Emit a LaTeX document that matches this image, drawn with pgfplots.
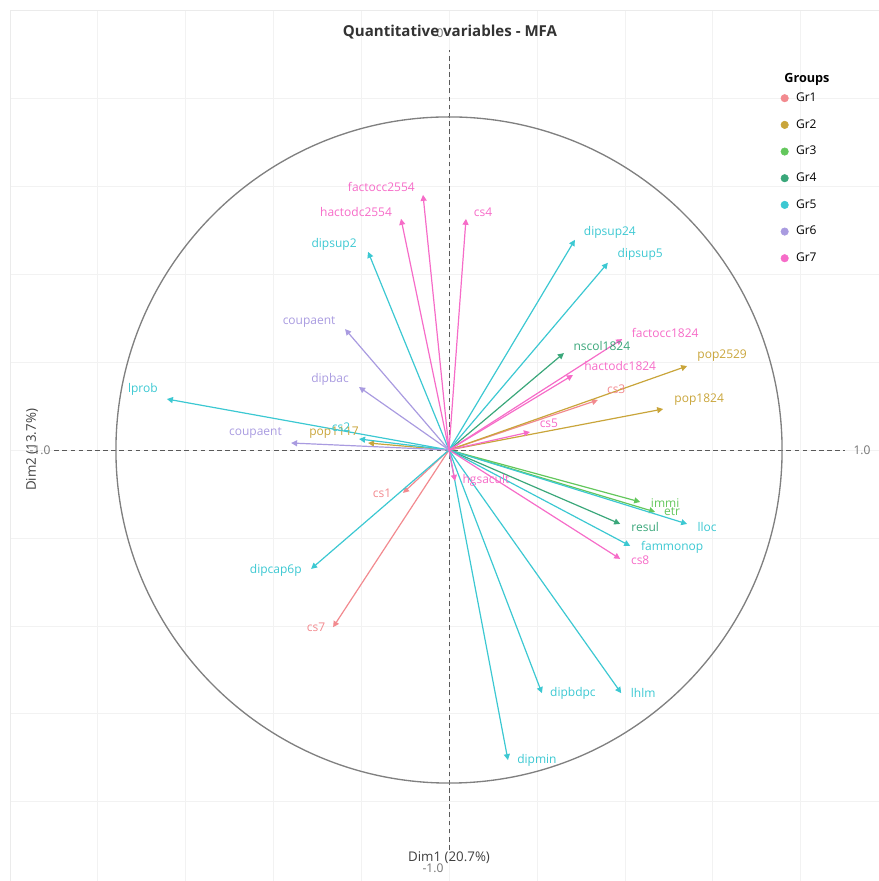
\documentclass[border=0pt]{standalone}
\usepackage{pgfplots}
\pgfplotsset{compat=1.18}
\usetikzlibrary{arrows.meta}
\usepackage{fontspec}
\setmainfont{Open Sans}
\definecolor{gr1}{HTML}{F28A8F}
\definecolor{gr2}{HTML}{C9A53A}
\definecolor{gr3}{HTML}{63C75C}
\definecolor{gr4}{HTML}{3AA77A}
\definecolor{gr5}{HTML}{3CC8D2}
\definecolor{gr6}{HTML}{A99BE0}
\definecolor{gr7}{HTML}{F66CC8}
\newcommand{\lblfont}{\fontsize{9}{10}\selectfont}
\newcommand{\arr}[3]{\addplot[#1, forget plot, line width=0.9pt, -{Triangle[length=4.5pt,width=4.5pt]}] coordinates {(0,0) (#2,#3)};}
\newcommand{\lab}[4]{\node[text=#1, font=\lblfont, inner sep=0pt] at (axis cs:#2,#3) {#4};}
\begin{document}
\begin{tikzpicture}
\begin{axis}[
  x=249.75pt, y=249.75pt,
  xmin=-1.318, xmax=1.291, ymin=-1.294, ymax=1.321,
  axis line style={draw=black!8},
  xtick={-1.056,-0.792,-0.528,-0.264,0,0.264,0.528,0.792,1.056},
  ytick={-1.056,-0.792,-0.528,-0.264,0,0.264,0.528,0.792,1.056},
  xticklabels={}, yticklabels={}, major tick length=0pt,
  grid=major, major grid style={draw=black!5, line width=0.5pt},
  clip=true,
  legend cell align=left,
  legend style={draw=none, fill=none, inner sep=0pt,
    at={(axis cs:0.995,1.079)}, anchor=north west,
    font=\fontsize{9}{10}\selectfont, row sep=9pt,
    nodes={inner sep=1pt, text height=7pt, text depth=2pt},
    /tikz/every odd column/.append style={column sep=4.5pt}},
]
% reference lines and circle
\draw[black!65, line width=0.7pt, dash pattern=on 3.5pt off 2.6pt] (axis cs:-1.185,0) -- (axis cs:1.19,0);
\draw[black!65, line width=0.7pt, dash pattern=on 3.5pt off 2.6pt] (axis cs:0,-1.2) -- (axis cs:0,1.2);
\draw[black!50, line width=1pt] (axis cs:0,0) circle [radius=1];

% Gr1
\arr{gr1}{0.447}{0.150}
\arr{gr1}{-0.138}{-0.129}
\arr{gr1}{-0.348}{-0.532}
% Gr2
\arr{gr2}{0.715}{0.252}
\arr{gr2}{0.643}{0.123}
\arr{gr2}{-0.243}{0.021}
% Gr3
\arr{gr3}{0.574}{-0.156}
\arr{gr3}{0.619}{-0.186}
% Gr4
\arr{gr4}{0.345}{0.291}
\arr{gr4}{0.514}{-0.222}
% Gr5
\arr{gr5}{-0.243}{0.595}
\arr{gr5}{0.378}{0.631}
\arr{gr5}{0.477}{0.562}
\arr{gr5}{-0.847}{0.153}
\arr{gr5}{-0.270}{0.033}
\arr{gr5}{0.715}{-0.222}
\arr{gr5}{0.544}{-0.288}
\arr{gr5}{-0.414}{-0.357}
\arr{gr5}{0.279}{-0.730}
\arr{gr5}{0.517}{-0.730}
\arr{gr5}{0.177}{-0.931}
% Gr6
\arr{gr6}{-0.312}{0.363}
\arr{gr6}{-0.270}{0.189}
\arr{gr6}{-0.474}{0.021}
% Gr7
\arr{gr7}{-0.078}{0.766}
\arr{gr7}{-0.144}{0.694}
\arr{gr7}{0.051}{0.694}
\arr{gr7}{0.520}{0.333}
\arr{gr7}{0.372}{0.225}
\arr{gr7}{0.243}{0.054}
\arr{gr7}{0.018}{-0.093}
\arr{gr7}{0.514}{-0.327}

% labels
\lab{gr7}{-0.203}{0.790}{factocc2554}
\lab{gr7}{-0.279}{0.715}{hactodc2554}
\lab{gr7}{0.102}{0.715}{cs4}
\lab{gr5}{-0.345}{0.616}{dipsup2}
\lab{gr5}{0.483}{0.652}{dipsup24}
\lab{gr5}{0.574}{0.586}{dipsup5}
\lab{gr7}{0.649}{0.351}{factocc1824}
\lab{gr4}{0.459}{0.312}{nscol1824}
\lab{gr7}{0.514}{0.252}{hactodc1824}
\lab{gr2}{0.820}{0.282}{pop2529}
\lab{gr1}{0.502}{0.183}{cs3}
\lab{gr2}{0.751}{0.150}{pop1824}
\lab{gr7}{0.300}{0.081}{cs5}
\lab{gr5}{-0.919}{0.183}{lprob}
\lab{gr6}{-0.420}{0.384}{coupaent}
\lab{gr6}{-0.357}{0.213}{dipbac}
\lab{gr6}{-0.581}{0.051}{coupaent}
\lab{gr2}{-0.345}{0.051}{pop1117}
\lab{gr5}{-0.324}{0.069}{cs2}
\lab{gr1}{-0.201}{-0.129}{cs1}
\lab{gr7}{0.111}{-0.090}{hgsacult}
\lab{gr3}{0.649}{-0.159}{immi}
\lab{gr3}{0.670}{-0.186}{etr}
\lab{gr4}{0.589}{-0.231}{resul}
\lab{gr5}{0.775}{-0.231}{lloc}
\lab{gr5}{0.670}{-0.291}{fammonop}
\lab{gr7}{0.574}{-0.330}{cs8}
\lab{gr5}{-0.520}{-0.360}{dipcap6p}
\lab{gr1}{-0.399}{-0.532}{cs7}
\lab{gr5}{0.372}{-0.730}{dipbdpc}
\lab{gr5}{0.583}{-0.730}{lhlm}
\lab{gr5}{0.264}{-0.931}{dipmin}

% axis annotations
\node[text=black!55, font=\lblfont] at (axis cs:1.240,0) {1.0};
\node[text=black!55, font=\lblfont] at (axis cs:-1.228,0) {-1.0};
\node[text=black!55, font=\lblfont] at (axis cs:-0.027,1.252) {0};
\node[text=black!55, font=\lblfont] at (axis cs:-0.048,-1.255) {-1.0};
\node[text=black!75, font=\fontsize{10}{12}\selectfont] at (axis cs:0,-1.225) {Dim1 (20.7\%)};
\node[text=black!75, font=\fontsize{10}{12}\selectfont, rotate=90] at (axis cs:-1.252,0) {Dim2 (13.7\%)};
\node[text=black!80, font=\bfseries\fontsize{11.3}{13}\selectfont] at (axis cs:0.003,1.255) {Quantitative variables - MFA};
\node[anchor=west, text=black, font=\bfseries\fontsize{9.5}{11}\selectfont, inner sep=0pt] at (axis cs:1.006,1.114) {Groups};

% legend
\addlegendimage{legend image code/.code={\fill[gr1] (0pt,0pt) circle (2.8pt);}}
\addlegendentry{Gr1}
\addlegendimage{legend image code/.code={\fill[gr2] (0pt,0pt) circle (2.8pt);}}
\addlegendentry{Gr2}
\addlegendimage{legend image code/.code={\fill[gr3] (0pt,0pt) circle (2.8pt);}}
\addlegendentry{Gr3}
\addlegendimage{legend image code/.code={\fill[gr4] (0pt,0pt) circle (2.8pt);}}
\addlegendentry{Gr4}
\addlegendimage{legend image code/.code={\fill[gr5] (0pt,0pt) circle (2.8pt);}}
\addlegendentry{Gr5}
\addlegendimage{legend image code/.code={\fill[gr6] (0pt,0pt) circle (2.8pt);}}
\addlegendentry{Gr6}
\addlegendimage{legend image code/.code={\fill[gr7] (0pt,0pt) circle (2.8pt);}}
\addlegendentry{Gr7}
\end{axis}
\pgfresetboundingbox
\useasboundingbox (current axis.south east) rectangle ([xshift=-7.5pt,yshift=7.5pt]current axis.north west);
\end{tikzpicture}
\end{document}
